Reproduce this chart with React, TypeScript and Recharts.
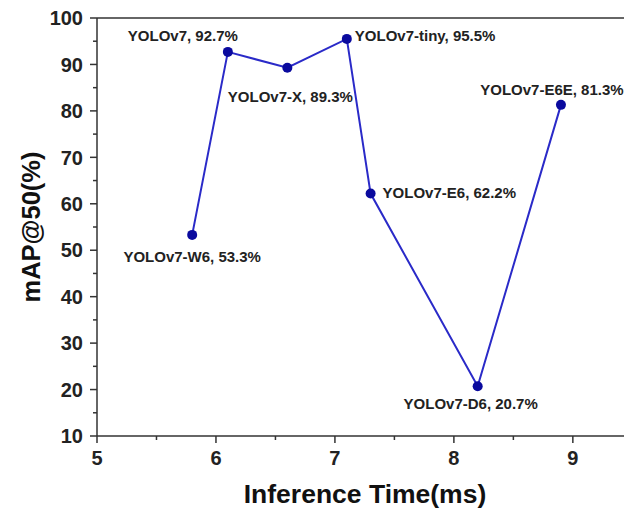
import React from 'react';
import { LineChart, Line, XAxis, YAxis, ReferenceLine, LabelList } from 'recharts';

const models = ['YOLOv7-W6', 'YOLOv7', 'YOLOv7-X', 'YOLOv7-tiny', 'YOLOv7-E6', 'YOLOv7-D6', 'YOLOv7-E6E'];
const inferenceTime = [5.8, 6.1, 6.6, 7.1, 7.3, 8.2, 8.9];
const mAP50 = [53.3, 92.7, 89.3, 95.5, 62.2, 20.7, 81.3];

const xTicks = [5, 5.5, 6, 6.5, 7, 7.5, 8, 8.5, 9];
const yTicks = [10, 15, 20, 25, 30, 35, 40, 45, 50, 55, 60, 65, 70, 75, 80, 85, 90, 95, 100];

const data = models.map((name, i) => ({ name, time: inferenceTime[i], map: mAP50[i] }));

// label placement relative to the dot (style only)
const placement: Record<string, { dx: number; dy: number; anchor: 'start' | 'middle' | 'end' }> = {
  'YOLOv7-W6': { dx: 0, dy: 27, anchor: 'middle' },
  'YOLOv7': { dx: -45, dy: -11, anchor: 'middle' },
  'YOLOv7-X': { dx: 3, dy: 34, anchor: 'middle' },
  'YOLOv7-tiny': { dx: 8, dy: 2, anchor: 'start' },
  'YOLOv7-E6': { dx: 12, dy: 4, anchor: 'start' },
  'YOLOv7-D6': { dx: -7, dy: 23, anchor: 'middle' },
  'YOLOv7-E6E': { dx: -9, dy: -10, anchor: 'middle' },
};

const FONT = '"Liberation Sans", Arial, sans-serif';
const AXIS = '#333';

const YTick = (props: any) => {
  const { x, y, payload } = props;
  const v = payload.value;
  const major = v % 10 === 0;
  return (
    <g>
      <line x1={x} x2={x - (major ? 7 : 4)} y1={y} y2={y} stroke={AXIS} strokeWidth={1.5} />
      {major && (
        <text x={x - 14} y={y} dy="0.36em" textAnchor="end" fontFamily={FONT} fontWeight="bold" fontSize={20} fill="#222">
          {v}
        </text>
      )}
    </g>
  );
};

const XTick = (props: any) => {
  const { x, y, payload } = props;
  const v = payload.value;
  const major = Number.isInteger(v);
  return (
    <g>
      <line x1={x} x2={x} y1={y} y2={y + (major ? 7 : 4)} stroke={AXIS} strokeWidth={1.5} />
      {major && (
        <text x={x} y={y + 29} textAnchor="middle" fontFamily={FONT} fontWeight="bold" fontSize={20} fill="#222">
          {v}
        </text>
      )}
    </g>
  );
};

const PointLabel = (props: any) => {
  const { x, y, value, index } = props;
  const p = placement[value] || { dx: 0, dy: -10, anchor: 'middle' };
  return (
    <text
      x={x + p.dx}
      y={y + p.dy}
      textAnchor={p.anchor}
      fontFamily={FONT}
      fontWeight="bold"
      fontSize={15}
      fill="#222"
    >
      {`${value}, ${mAP50[index].toFixed(1)}%`}
    </text>
  );
};

export default function App() {
  return (
    <div style={{ position: 'absolute', left: 8, top: 8, width: 616, height: 500, overflow: 'hidden', background: '#fff' }}>
      <LineChart width={616} height={500} data={data} margin={{ top: 10, right: 0, bottom: 0, left: 0 }}>
        <XAxis
          type="number"
          dataKey="time"
          domain={[5, 9.43]}
          ticks={xTicks}
          interval={0}
          tickSize={0}
          tickMargin={0}
          tickLine={false}
          tick={<XTick />}
          height={72}
          axisLine={{ stroke: AXIS, strokeWidth: 1.5 }}
          label={{
            content: (lp: any) => {
              const vb = lp.viewBox;
              return (
                <text x={357} y={vb.y + 67} textAnchor="middle" fontFamily={FONT} fontWeight="bold" fontSize={26.5} fill="#111">
                  Inference Time(ms)
                </text>
              );
            },
          }}
        />
        <YAxis
          type="number"
          dataKey="map"
          domain={[10, 100]}
          ticks={yTicks}
          interval={0}
          tickSize={0}
          tickMargin={0}
          tickLine={false}
          tick={<YTick />}
          width={89}
          axisLine={{ stroke: AXIS, strokeWidth: 1.5 }}
          label={{
            content: (lp: any) => {
              const vb = lp.viewBox;
              const cy = vb.y + vb.height / 2;
              return (
                <text
                  x={23}
                  y={cy}
                  transform={`rotate(-90, 23, ${cy})`}
                  textAnchor="middle"
                  dominantBaseline="central"
                  fontFamily={FONT}
                  fontWeight="bold"
                  fontSize={25.5}
                  fill="#111"
                >
                  mAP@50(%)
                </text>
              );
            },
          }}
        />
        <ReferenceLine y={100} stroke={AXIS} strokeWidth={1.5} />
        <Line
          type="linear"
          dataKey="map"
          stroke="#2a2ac8"
          strokeWidth={2}
          dot={{ r: 5, fill: '#0a0a9e', stroke: '#0a0a9e', strokeWidth: 0 }}
          isAnimationActive={false}
        >
          <LabelList dataKey="name" content={<PointLabel />} />
        </Line>
      </LineChart>
    </div>
  );
}
